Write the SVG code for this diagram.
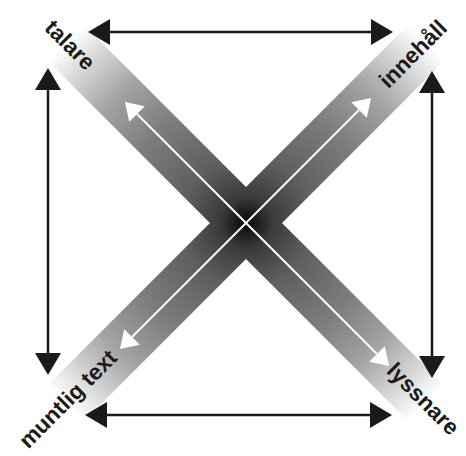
<svg xmlns="http://www.w3.org/2000/svg" width="466" height="456" viewBox="0 0 466 456">
<defs>
<radialGradient id="bandGrad" gradientUnits="userSpaceOnUse" cx="246" cy="223" r="256">
<stop offset="0" stop-color="#050505"/>
<stop offset="0.1" stop-color="#3a3a3a"/>
<stop offset="0.25" stop-color="#5e5e5e"/>
<stop offset="0.5" stop-color="#7e7e7e"/>
<stop offset="0.7" stop-color="#a2a2a2"/>
<stop offset="0.86" stop-color="#d2d2d2"/>
<stop offset="1" stop-color="#ffffff"/>
</radialGradient>
<marker id="blackHead" markerUnits="userSpaceOnUse" markerWidth="23" markerHeight="26" refX="0" refY="13" orient="auto-start-reverse" overflow="visible">
<path d="M0,0 L22,13 L0,26 Z" fill="#1a1a1a"/>
</marker>
<marker id="whiteHead" markerUnits="userSpaceOnUse" markerWidth="18" markerHeight="22" refX="0" refY="11" orient="auto-start-reverse" overflow="visible">
<path d="M0,0 L17,11 L0,22 Z" fill="#ffffff"/>
</marker>
</defs>
<style>
.band{fill:url(#bandGrad);}
.blk{stroke:#1a1a1a;stroke-width:2.5;fill:none;marker-start:url(#blackHead);marker-end:url(#blackHead);}
.wht{stroke:#ffffff;stroke-width:2;fill:none;marker-start:url(#whiteHead);marker-end:url(#whiteHead);}
.lbl{font-family:"Liberation Sans",Arial,sans-serif;font-weight:bold;font-size:22.5px;fill:#1a1a1a;text-anchor:middle;dominant-baseline:central;}
</style>
<g id="bands">
<rect class="band" x="-9" y="197.5" width="510" height="51" transform="rotate(45 246 223)"/>
<rect class="band" x="-9" y="197.5" width="510" height="51" transform="rotate(-45 246 223)"/>
</g>
<g id="connectors">
<line class="blk" x1="110" y1="32" x2="371" y2="32"/>
<line class="blk" x1="107" y1="415" x2="370" y2="415"/>
<line class="blk" x1="48" y1="90" x2="48" y2="353"/>
<line class="blk" x1="432" y1="93" x2="432" y2="356"/>
<line class="wht" x1="137" y1="114" x2="377" y2="354"/>
<line class="wht" x1="359" y1="110" x2="132" y2="337"/>
</g>
<g id="talare"><text class="lbl" transform="translate(70 45) rotate(45)">talare</text></g>
<g id="innehall"><text class="lbl" transform="translate(413 54) rotate(-45)">innehåll</text></g>
<g id="muntlig-text"><text class="lbl" transform="translate(68 399) rotate(-45)">muntlig text</text></g>
<g id="lyssnare"><text class="lbl" transform="translate(423 399) rotate(45)">lyssnare</text></g>
</svg>
